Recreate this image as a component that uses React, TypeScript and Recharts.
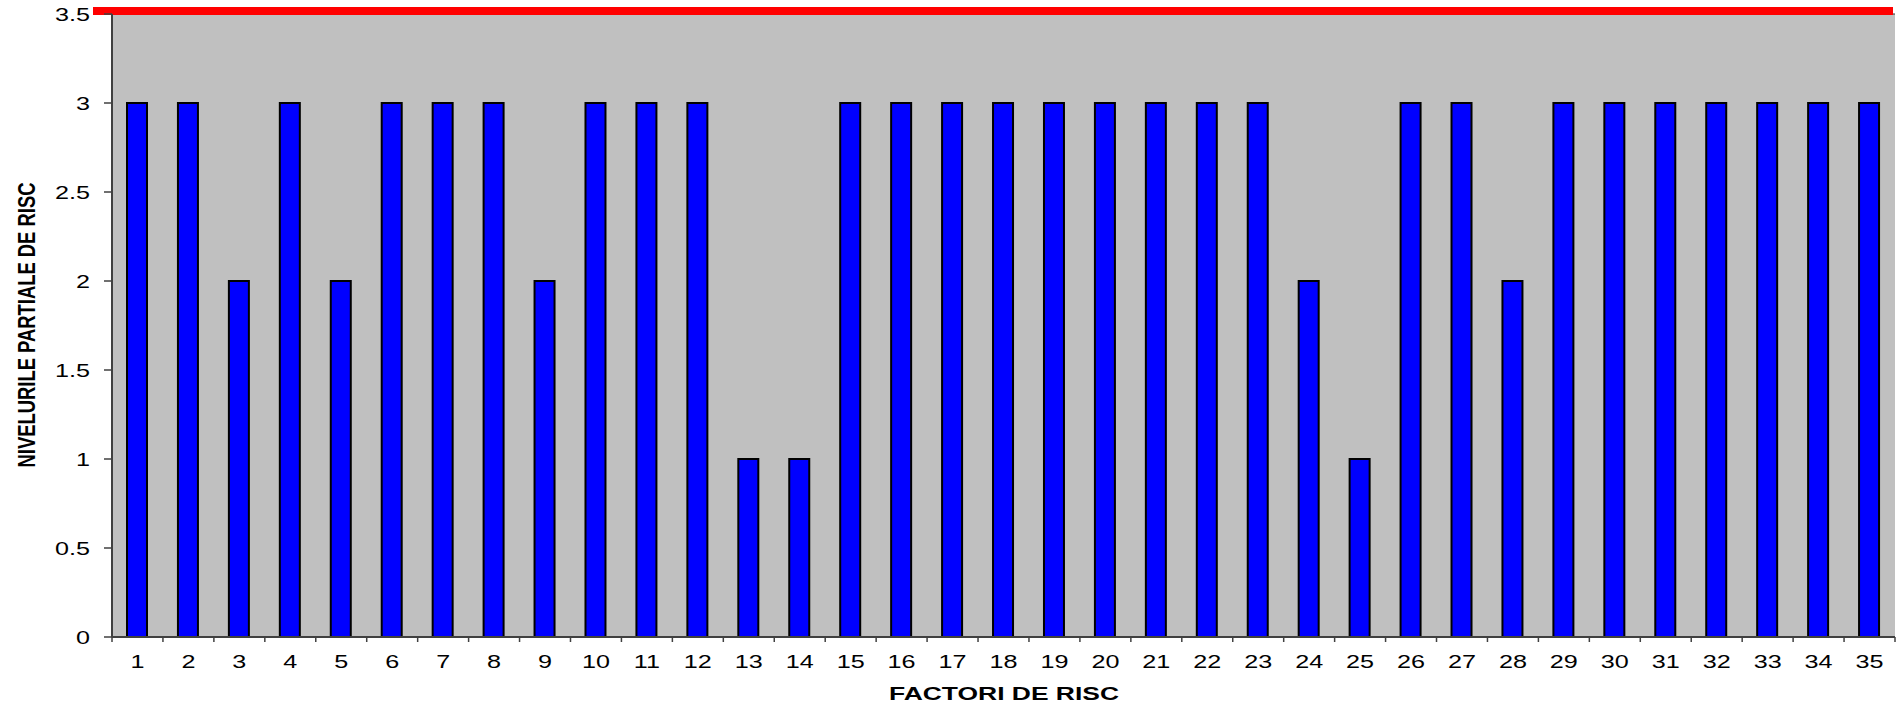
import React from 'react';
import { BarChart, Bar, XAxis, YAxis, CartesianGrid, ReferenceLine } from 'recharts';

const categories: string[] = Array.from({ length: 35 }, (_, i) => String(i + 1));
const values: number[] = [3, 3, 2, 3, 2, 3, 3, 3, 2, 3, 3, 3, 1, 1, 3, 3, 3, 3, 3, 3, 3, 3, 3, 2, 1, 3, 3, 2, 3, 3, 3, 3, 3, 3, 3];
const yTicks: number[] = [0, 0.5, 1, 1.5, 2, 2.5, 3, 3.5];
const limitValue = 3.5;

const data = categories.map((c, i) => ({ name: c, value: values[i] }));

const PLOT_LEFT = 112;
const PLOT_RIGHT = 1895;
const BAND = (PLOT_RIGHT - PLOT_LEFT) / categories.length;
const FONT = '"Liberation Sans", Arial, sans-serif';

const XTick = (props: any) => {
  const { x, y, payload, index } = props;
  return (
    <g>
      {index === 0 && (
        <line x1={x - BAND / 2} y1={y} x2={x - BAND / 2} y2={y + 5} stroke="#404040" strokeWidth={1.5} />
      )}
      <line x1={x + BAND / 2} y1={y} x2={x + BAND / 2} y2={y + 5} stroke="#404040" strokeWidth={1.5} />
      <text
        transform={`translate(${x},${y + 31}) scale(1.4,1)`}
        textAnchor="middle"
        fontFamily={FONT}
        fontSize={18}
        fill="#000"
      >
        {payload.value}
      </text>
    </g>
  );
};

const YTick = (props: any) => {
  const { x, y, payload } = props;
  return (
    <g>
      <line x1={x - 8} y1={y} x2={x} y2={y} stroke="#404040" strokeWidth={1.5} />
      <text
        transform={`translate(${x - 22},${y + 6.5}) scale(1.4,1)`}
        textAnchor="end"
        fontFamily={FONT}
        fontSize={18}
        fill="#000"
      >
        {String(payload.value)}
      </text>
    </g>
  );
};

export default function App() {
  return (
    <div style={{ position: 'fixed', left: 0, top: 0, background: '#fff' }}>
      <BarChart width={1902} height={707} data={data} margin={{ top: 14, right: 7, bottom: 0, left: 0 }}>
        <CartesianGrid fill="#C0C0C0" vertical={false} stroke="#303030" strokeWidth={1} />
        <XAxis
          dataKey="name"
          height={70}
          tickSize={0}
          tickMargin={0}
          tickLine={false}
          interval={0}
          axisLine={{ stroke: '#404040', strokeWidth: 2 }}
          tick={<XTick />}
          label={(p: any) => (
            <text
              x={1004}
              y={700}
              textAnchor="middle"
              fontFamily={FONT}
              fontWeight="bold"
              fontSize={18}
              textLength={230}
              lengthAdjust="spacingAndGlyphs"
              fill="#000"
            >
              FACTORI DE RISC
            </text>
          )}
        />
        <YAxis
          yAxisId="left"
          width={112}
          domain={[0, 3.5]}
          ticks={yTicks}
          interval={0}
          tickSize={0}
          tickMargin={0}
          tickLine={false}
          axisLine={{ stroke: '#404040', strokeWidth: 2 }}
          tick={<YTick />}
          label={(p: any) => (
            <text
              x={35}
              y={325}
              transform="rotate(-90 35 325)"
              textAnchor="middle"
              fontFamily={FONT}
              fontWeight="bold"
              fontSize={23}
              textLength={285}
              lengthAdjust="spacingAndGlyphs"
              fill="#000"
            >
              NIVELURILE PARTIALE DE RISC
            </text>
          )}
        />
        <YAxis
          yAxisId="right"
          orientation="right"
          width={0}
          domain={[0, 3.5]}
          tick={false}
          tickLine={false}
          axisLine={{ stroke: '#808080', strokeWidth: 2 }}
        />
        <Bar
          yAxisId="left"
          dataKey="value"
          fill="#0000FF"
          stroke="#000000"
          strokeWidth={2}
          barSize={20}
          isAnimationActive={false}
        />
        <ReferenceLine
          yAxisId="left"
          y={limitValue}
          stroke="#FF0000"
          strokeWidth={8}
          shape={(p: any) => (
            <line x1={p.x1 - 19} y1={p.y1 - 3} x2={p.x2 - 2} y2={p.y2 - 3} stroke="#FF0000" strokeWidth={8} />
          )}
        />
      </BarChart>
    </div>
  );
}
